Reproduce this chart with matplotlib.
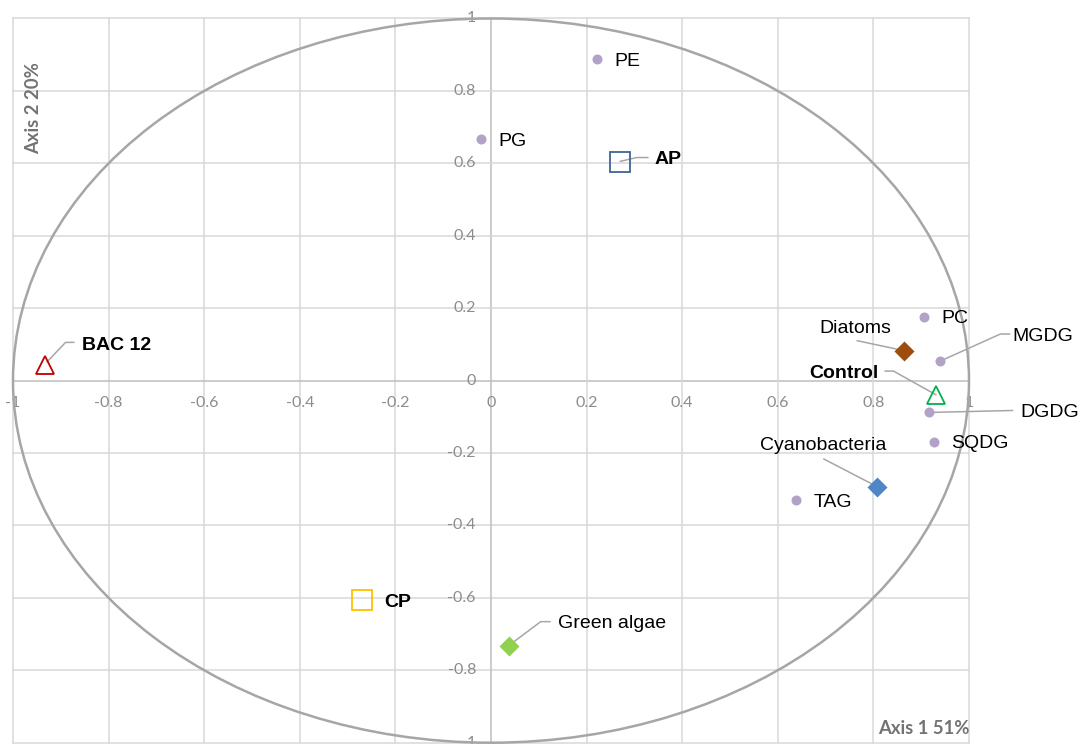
import matplotlib
matplotlib.use('Agg')
import matplotlib.pyplot as plt
import matplotlib.transforms as mtransforms
from matplotlib.patches import Ellipse

# lipid classes (variables of the PCA)
lipids = ['PE', 'PG', 'PC', 'MGDG', 'DGDG', 'SQDG', 'TAG']
lipid_x = [0.222, -0.021, 0.906, 0.940, 0.917, 0.926, 0.639]
lipid_y = [0.888, 0.667, 0.177, 0.054, -0.088, -0.169, -0.330]

# treatments (open markers)
samples = ['AP', 'CP', 'BAC 12', 'Control']
sample_x = [0.269, -0.269, -0.934, 0.932]
sample_y = [0.605, -0.606, 0.042, -0.040]

# algal groups (filled diamonds)
algae = ['Diatoms', 'Cyanobacteria', 'Green algae']
algae_x = [0.863, 0.808, 0.037]
algae_y = [0.083, -0.293, -0.732]

ticks = [-1, -0.8, -0.6, -0.4, -0.2, 0, 0.2, 0.4, 0.6, 0.8, 1]
axis1_label = 'Axis 1 51%'
axis2_label = 'Axis 2 20%'

GRID = '#d9d9d9'
LEADER = '#a6a6a6'
TICKCOL = '#8c8c8c'
TITLECOL = '#737373'
LABEL_FONT = ['Liberation Sans', 'DejaVu Sans']
TICK_FONT = ['Lato', 'DejaVu Sans']

sample_style = {
    'AP': ('s', '#3f6498', 14.2),
    'CP': ('s', '#ffc000', 14.2),
    'BAC 12': ('^', '#c00000', 12.8),
    'Control': ('^', '#00b050', 13.2),
}
algae_colors = {'Diatoms': '#9e4d10', 'Cyanobacteria': '#4f86c6',
                'Green algae': '#92d050'}

# label placement in pixels from the point (dx, dy, ha, leader path)
label_pos = {
    'PE': (17, 0, 'left', None),
    'PG': (17, 0, 'left', None),
    'PC': (17, 0, 'left', None),
    'SQDG': (17, 0, 'left', None),
    'TAG': (17, 0, 'left', None),
    'MGDG': (72, 27, 'left', [(0, 0), (60, 27), (70, 27)]),
    'DGDG': (91, 2, 'left', [(0, 0), (84, 2)]),
    'AP': (35, 4, 'left', [(0, 0), (17, 4), (29, 4)]),
    'CP': (22, 0, 'left', None),
    'BAC 12': (37, 22, 'left', [(2, 3), (21, 23), (30, 23)]),
    'Control': (-58, 24, 'right', [(0, 0), (-43, 24), (-52, 24)]),
    'Diatoms': (-48, 24, 'center', [(0, 0), (-47, 10)]),
    'Cyanobacteria': (-54, 43, 'center', [(0, 0), (-54, 28)]),
    'Green algae': (49, 24, 'left', [(0, 0), (32, 24), (42, 24)]),
}


def label_point(ax, name, x, y, bold=False):
    dx, dy, ha, path = label_pos[name]
    if path is not None:
        tr = mtransforms.ScaledTranslation(x, y, ax.transData)
        ax.plot([p[0] for p in path], [p[1] for p in path], color=LEADER,
                lw=1.1, transform=mtransforms.IdentityTransform() + tr,
                zorder=3, solid_capstyle='butt', clip_on=False)
    ax.annotate(name, (x, y), xytext=(dx, dy), textcoords='offset pixels',
                ha=ha, va='center_baseline', fontsize=14, family=LABEL_FONT,
                fontweight='bold' if bold else 'normal', color='black',
                zorder=5, annotation_clip=False)


def main():
    fig = plt.figure(figsize=(10.84, 7.44), dpi=100)
    ax = fig.add_axes([13 / 1084, 1.3 / 744, 956 / 1084, 724.2 / 744])
    ax.set_xlim(-1, 1)
    ax.set_ylim(-1, 1)
    for s in ax.spines.values():
        s.set_visible(False)
    ax.set_xticks([])
    ax.set_yticks([])

    for t in ticks:
        col = '#bfbfbf' if t == 0 else GRID
        ax.axvline(t, color=col, lw=1.1, zorder=0, clip_on=False)
        ax.axhline(t, color=col, lw=1.1, zorder=0, clip_on=False)
        # x tick labels along y=0, y tick labels along x=0
        ax.annotate('%g' % t, (t, 0), xytext=(0, -22), textcoords='offset pixels',
                    ha='center', va='center', fontsize=11.5, family=TICK_FONT,
                    color=TICKCOL, zorder=1, annotation_clip=False)
        ax.annotate('%g' % t, (0, t), xytext=(-15, 0), textcoords='offset pixels',
                    ha='right', va='center', fontsize=11.5, family=TICK_FONT,
                    color=TICKCOL, zorder=1, annotation_clip=False)

    ax.add_patch(Ellipse((0, 0), 2, 2, fill=False, edgecolor='#a6a6a6',
                         lw=1.8, zorder=2, clip_on=False))

    ax.plot(lipid_x, lipid_y, 'o', ms=7.2, color='#b3a2c7', mec='none', zorder=4)
    for name, x, y in zip(lipids, lipid_x, lipid_y):
        label_point(ax, name, x, y)

    for name, x, y in zip(samples, sample_x, sample_y):
        m, c, ms = sample_style[name]
        ax.plot(x, y, m, ms=ms, mfc='none', mec=c, mew=1.3, zorder=4)
        label_point(ax, name, x, y, bold=True)

    for name, x, y in zip(algae, algae_x, algae_y):
        ax.plot(x, y, 'D', ms=10, color=algae_colors[name], mec='none', zorder=4)
        label_point(ax, name, x, y)

    fig.text(34 / 1084, 1 - 108 / 744, axis2_label, rotation=90, ha='center',
             va='center', fontsize=13.3, fontweight='bold', family=TICK_FONT,
             color=TITLECOL)
    fig.text(970 / 1084, 1 - 728 / 744, axis1_label, ha='right', va='center',
             fontsize=13.3, fontweight='bold', family=TICK_FONT, color=TITLECOL)

    fig.savefig('out.png', dpi=100, facecolor='white')


if __name__ == '__main__':
    main()
